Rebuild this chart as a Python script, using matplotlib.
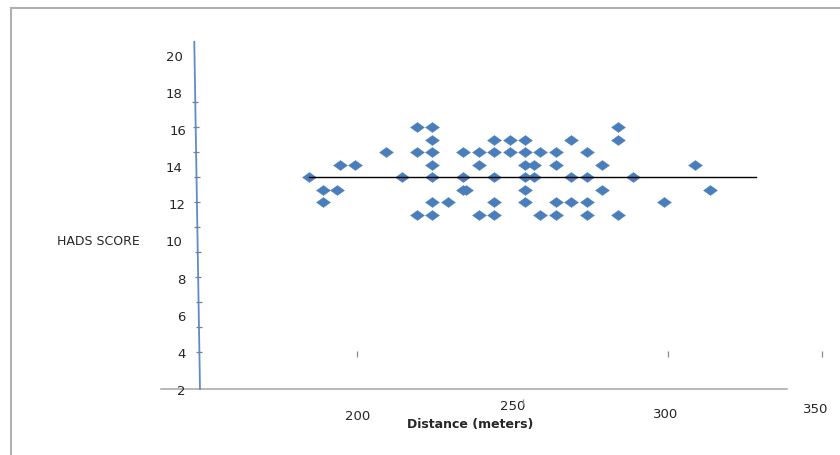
import numpy as np
import matplotlib.pyplot as plt
from matplotlib.path import Path
from matplotlib.lines import Line2D
from matplotlib.transforms import ScaledTranslation

# HADS score rows (read on the labelled axis) and the distances plotted in each row
row_scores = [16.1, 15.4, 14.75, 14.05, 13.4, 12.7, 12.05, 11.35]
row_distances = [
    [220, 225, 285],
    [225, 245, 250, 255, 270, 285],
    [210, 220, 225, 235, 240, 245, 250, 255, 260, 265, 275],
    [195, 200, 225, 240, 255, 258, 265, 280, 310],
    [185, 215, 225, 235, 245, 255, 258, 270, 275, 290],
    [189.5, 194, 235, 236, 255, 280, 315],
    [189.5, 225, 230, 245, 255, 265, 270, 275, 300],
    [220, 225, 240, 245, 260, 265, 275, 285],
]

# horizontal reference line
ref_line_x = [185, 330]
ref_line_y = 13.4

y_ticks = [2, 4, 6, 8, 10, 12, 14, 16, 18, 20]
x_ticks = [200, 250, 300, 350]

# stray tick marks as they appear on the picture
y_minor = [4.0, 5.35, 6.69, 8.04, 9.39, 10.70, 12.05, 13.40, 14.74, 16.09, 17.47]
x_mark_pos = [200.6, 254.4, 301.4, 351.3]
x_mark_lvl = [3.88, 1.32, 3.88, 3.88]

dist = np.concatenate([np.array(d, dtype=float) for d in row_distances])
hads = np.concatenate([np.full(len(d), s) for d, s in zip(row_distances, row_scores)])

W, H = 840, 456
fig = plt.figure(figsize=(W / 100, H / 100), dpi=100)
ax = fig.add_axes([190 / W, (H - 390) / H, 650 / W, 350 / H])
ax.set_xlim(146.43, 357.12)
ax.set_ylim(2, 20.85)
for s in ax.spines.values():
    s.set_visible(False)

# squashed diamond marker like the original
diamond = Path([(-1, 0), (0, 0.72), (1, 0), (0, -0.72), (-1, 0)],
               [Path.MOVETO, Path.LINETO, Path.LINETO, Path.LINETO, Path.CLOSEPOLY])
ax.plot(dist, hads, ls='none', marker=diamond, ms=10, mfc='#4a7ebb',
        mec='#4a7ebb', mew=0.3, zorder=3)
ax.plot(ref_line_x, [ref_line_y, ref_line_y], color='black', lw=1.0, zorder=4)

# axis lines (the y axis is slightly tilted in the source)
ax.plot([137.0, 340.0], [2, 2], color='#a6a6a6', lw=1.1, clip_on=False, zorder=1)
yax_x = [149.67, 147.82]
yax_y = [2, 20.7]
ax.plot(yax_x, yax_y, color='#5f8bc9', lw=1.3, clip_on=False, zorder=2)
ax.plot(np.interp(y_minor, yax_y, yax_x), y_minor, ls='none', marker='_', ms=5,
        mew=0.9, color='#7f7f7f', clip_on=False)
ax.plot(x_mark_pos, x_mark_lvl, ls='none', marker='|', ms=4.5, mew=0.9,
        color='#8c8c8c', clip_on=False)

ax.set_yticks(y_ticks)
ax.set_xticks(x_ticks)
ax.tick_params(axis='y', length=0, pad=2.9, labelsize=9.5, labelcolor='#262626')
ax.tick_params(axis='x', length=0, pad=7, labelsize=9.5, labelcolor='#262626')

# the labels are a bit jumbled in the reference, nudge them (pixels)
y_nudge = {10: -4, 14: -3.5, 18: -3.5, 20: -3.5}
for lab, t in zip(ax.get_yticklabels(), y_ticks):
    dx = y_nudge.get(t, 0)
    lab.set_transform(lab.get_transform() + ScaledTranslation(dx / 100, 0, fig.dpi_scale_trans))
x_nudge = [(2.7, -10), (3.5, 0), (2, -8), (-2, -3)]
for lab, (dx, dy) in zip(ax.get_xticklabels(), x_nudge):
    lab.set_transform(lab.get_transform() + ScaledTranslation(dx / 100, dy / 100, fig.dpi_scale_trans))

ax.set_ylabel('HADS SCORE', rotation=0, fontsize=9, ha='center', va='center', color='#262626')
ax.yaxis.set_label_coords(-0.1415, 0.4257)
ax.set_xlabel('Distance (meters)', fontsize=9, fontweight='bold', va='center', color='#262626')
ax.xaxis.set_label_coords(0.4308, -0.1)

# frame remains at the top and left edge of the picture
fig.add_artist(Line2D([11 / W, 1], [1 - 9 / H, 1 - 9 / H], transform=fig.transFigure,
                      color='#b0b0b0', lw=1.5))
fig.add_artist(Line2D([11 / W, 11 / W], [0, 1 - 9 / H], transform=fig.transFigure,
                      color='#b0b0b0', lw=1.5))

fig.savefig('out.png', dpi=100)
